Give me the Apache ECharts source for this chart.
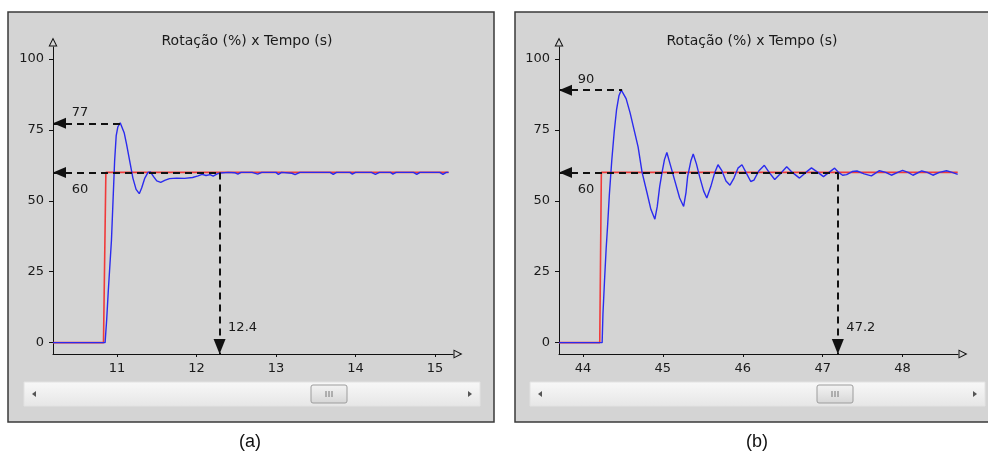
<!DOCTYPE html>
<html><head><meta charset="utf-8">
<script src="https://cdn.jsdelivr.net/npm/echarts@6/dist/echarts.min.js"></script>
<style>html,body{margin:0;padding:0;background:#fff}#c{width:988px;height:454px}</style>
</head><body><div id="c"></div><script>
// ---- data ----
const titleText = 'Rotação (%) x Tempo (s)';
const captions = ['(a)', '(b)'];
const yTicks = [0, 25, 50, 75, 100];
const yRange = [-4, 104.2];
const xRangeA = [10.195, 15.226];
const xRangeB = [43.7, 48.694];
const xTicksA = [11, 12, 13, 14, 15];
const xTicksB = [44, 45, 46, 47, 48];

const setpointA = [[10.195,0],[10.83,0],[10.86,60],[15.17,60]];
const responseA = [[10.195,0],[10.85,0],[10.87,8],[10.89,18],[10.91,27],[10.93,36],[10.95,50],[10.97,64],[10.99,73],[11.01,76],[11.04,77.5],[11.06,77.3],[11.09,74],[11.12,70],[11.16,64],[11.2,58],[11.24,54],[11.28,52.5],[11.31,54.5],[11.35,58],[11.39,60],[11.42,60.2],[11.46,58.5],[11.5,57],[11.55,56.5],[11.6,57.2],[11.66,57.8],[11.75,58],[11.85,57.9],[11.95,58.2],[12.02,58.8],[12.07,59.3],[12.12,58.9],[12.17,59.2],[12.21,58.7],[12.26,59.5],[12.3,59.8],[12.4,60],[12.48,59.9],[12.52,59.4],[12.56,60],[12.7,60],[12.77,59.4],[12.82,60],[13.0,60],[13.03,59.3],[13.07,60],[13.2,59.7],[13.24,59.2],[13.3,60],[13.68,60],[13.72,59.3],[13.76,60],[13.93,60],[13.96,59.4],[14.0,60],[14.2,60],[14.25,59.3],[14.3,60],[14.44,60],[14.47,59.4],[14.51,60],[14.73,60],[14.77,59.3],[14.81,60],[15.06,60],[15.1,59.3],[15.14,60],[15.17,60]];

const setpointB = [[43.7,0],[44.21,0],[44.23,60],[48.69,60]];
const responseB = [[43.7,0],[44.24,0],[44.25,10],[44.27,22],[44.29,33],[44.31,42],[44.33,52],[44.36,64],[44.39,74],[44.42,82],[44.45,87],[44.48,89],[44.5,88.5],[44.54,86],[44.59,81],[44.64,75],[44.69,69],[44.74,60],[44.8,53],[44.85,47],[44.9,43.5],[44.93,48],[44.96,55],[44.99,60],[45.02,64.5],[45.05,67],[45.09,63],[45.15,57],[45.21,51],[45.26,48],[45.29,53],[45.31,58.5],[45.35,64],[45.38,66.5],[45.42,63],[45.46,58.5],[45.51,53.5],[45.55,51],[45.6,55],[45.65,60],[45.69,62.7],[45.74,60.5],[45.79,57],[45.84,55.5],[45.89,58],[45.94,61.5],[45.99,62.7],[46.04,60],[46.1,56.8],[46.14,57.3],[46.2,60.5],[46.27,62.5],[46.33,60],[46.4,57.5],[46.47,59.5],[46.55,62],[46.62,60],[46.71,58],[46.79,60],[46.86,61.6],[46.94,60],[47.01,58.5],[47.08,60],[47.15,61.5],[47.2,60],[47.25,59],[47.3,59.2],[47.37,60.3],[47.43,60.5],[47.52,59.5],[47.61,58.8],[47.71,60.6],[47.79,60],[47.86,59],[47.94,60],[48.0,60.7],[48.07,60],[48.13,59],[48.24,60.5],[48.31,60],[48.38,59],[48.46,60],[48.55,60.6],[48.62,60],[48.69,59.3]];

// annotations: [x, y]
const peakA = [11.05, 77.3];
const settleA = [12.29, 60];
const labelsA = ['77', '60', '12.4'];
const peakB = [44.49, 89];
const settleB = [47.19, 60];
const labelsB = ['90', '60', '47.2'];

// ---- chart ----
const FONT = 'DejaVu Sans';
const TXT = '#1a1a1a';
const hollowTri = 'path://M5,0L10,10L0,10Z M5,2.6L1.8,8.9L8.2,8.9Z';

const grids = [
  {left: 53, top: 47, width: 400, height: 307, outerBoundsMode: 'none'},
  {left: 559, top: 47, width: 399, height: 307, outerBoundsMode: 'none'}
];

function xAxisDef(i, range, ticks) {
  return {
    type: 'value', gridIndex: i, min: range[0], max: range[1],
    axisLine: {show: true, onZero: false, lineStyle: {color: '#111', width: 1},
      symbol: ['none', hollowTri], symbolSize: [9, 10], symbolOffset: [0, 5]},
    axisTick: {show: true, length: 3, customValues: ticks, lineStyle: {color: '#111'}},
    axisLabel: {customValues: ticks, color: TXT, fontFamily: FONT, fontSize: 13, margin: 8},
    splitLine: {show: false}
  };
}
function yAxisDef(i) {
  return {
    type: 'value', gridIndex: i, min: yRange[0], max: yRange[1],
    axisLine: {show: true, onZero: false, lineStyle: {color: '#111', width: 1},
      symbol: ['none', hollowTri], symbolSize: [9, 10], symbolOffset: [0, 5]},
    axisTick: {show: true, length: 4, customValues: yTicks, lineStyle: {color: '#111'}},
    axisLabel: {customValues: yTicks, color: TXT, fontFamily: FONT, fontSize: 13, margin: 9},
    splitLine: {show: false}
  };
}

function panelSeries(i, range, setpoint, response, peak, settle, labels) {
  const arrowH = {symbol: 'triangle', symbolSize: [11, 13], symbolOffset: [0, 6.5]};
  const arrowV = {symbol: 'triangle', symbolSize: [12, 15], symbolOffset: [0, 7.5]};
  return [
    {type: 'line', xAxisIndex: i, yAxisIndex: i, data: setpoint, showSymbol: false, symbol: 'none',
      lineStyle: {color: '#f03a3a', width: 1.6}, z: 2, silent: true},
    {type: 'line', xAxisIndex: i, yAxisIndex: i, data: response, showSymbol: false, symbol: 'none',
      lineStyle: {color: '#2b2bee', width: 1.4}, z: 3, silent: true},
    {type: 'line', xAxisIndex: i, yAxisIndex: i, data: [], z: 4, silent: true,
      markLine: {
        silent: true, animation: false, symbol: ['none', 'none'],
        lineStyle: {color: '#111', width: 2, type: [7, 5]},
        label: {show: false}, emphasis: {disabled: true},
        data: [
          [Object.assign({coord: [range[0], peak[1]]}, arrowH), {coord: [peak[0], peak[1]], symbol: 'none'}],
          [Object.assign({coord: [range[0], settle[1]]}, arrowH), {coord: [settle[0], settle[1]], symbol: 'none'}],
          [{coord: [settle[0], settle[1]], symbol: 'none'}, Object.assign({coord: [settle[0], yRange[0]]}, arrowV)]
        ]
      }},
    {type: 'scatter', xAxisIndex: i, yAxisIndex: i, symbolSize: 0, silent: true, z: 5,
      itemStyle: {opacity: 1, color: TXT},
      label: {show: true, position: 'inside', formatter: p => p.name, color: TXT, opacity: 1, fontFamily: FONT, fontSize: 13},
      data: [
        {name: labels[0], value: [range[0], peak[1]], label: {offset: [27, -11]}},
        {name: labels[1], value: [range[0], settle[1]], label: {offset: [27, 17.5]}},
        {name: labels[2], value: [settle[0], 0], label: {offset: [23, -15]}}
      ]}
  ];
}

function scrollbar(x, w) {
  const y = 382, h = 24, tx = x + 287;
  return [
    {type: 'rect', z: -1, shape: {x: x, y: y, width: w, height: h},
      style: {fill: {type: 'linear', x: 0, y: 0, x2: 0, y2: 1, colorStops: [{offset: 0, color: '#f8f8f8'}, {offset: 1, color: '#e6e6e6'}]}, stroke: '#e2e2e2', lineWidth: 1}},
    {type: 'rect', z: -1, shape: {x: tx, y: y + 3, width: 36, height: 18, r: 2},
      style: {fill: {type: 'linear', x: 0, y: 0, x2: 0, y2: 1, colorStops: [{offset: 0, color: '#f4f4f4'}, {offset: 1, color: '#d6d6d6'}]}, stroke: '#9c9c9c', lineWidth: 1}},
    {type: 'line', z: -1, shape: {x1: tx + 15, y1: y + 9, x2: tx + 15, y2: y + 15}, style: {stroke: '#777', lineWidth: 1}},
    {type: 'line', z: -1, shape: {x1: tx + 18, y1: y + 9, x2: tx + 18, y2: y + 15}, style: {stroke: '#777', lineWidth: 1}},
    {type: 'line', z: -1, shape: {x1: tx + 21, y1: y + 9, x2: tx + 21, y2: y + 15}, style: {stroke: '#777', lineWidth: 1}},
    {type: 'polygon', z: -1, shape: {points: [[x + 8, y + 12], [x + 12, y + 9], [x + 12, y + 15]]}, style: {fill: '#555'}},
    {type: 'polygon', z: -1, shape: {points: [[x + w - 8, y + 12], [x + w - 12, y + 9], [x + w - 12, y + 15]]}, style: {fill: '#555'}}
  ];
}

const graphics = [
  {type: 'rect', z: -2, shape: {x: 8, y: 12, width: 486, height: 410}, style: {fill: '#d4d4d4', stroke: '#3a3a3a', lineWidth: 1.5}},
  {type: 'rect', z: -2, shape: {x: 515, y: 12, width: 490, height: 410}, style: {fill: '#d4d4d4', stroke: '#3a3a3a', lineWidth: 1.5}},
  {type: 'text', z: 1, x: 247, y: 41, style: {text: titleText, fill: TXT, font: '14px "DejaVu Sans"', align: 'center', verticalAlign: 'middle'}},
  {type: 'text', z: 1, x: 752, y: 41, style: {text: titleText, fill: TXT, font: '14px "DejaVu Sans"', align: 'center', verticalAlign: 'middle'}},
  {type: 'text', z: 1, x: 250, y: 442, style: {text: captions[0], fill: '#111', font: '18px "Liberation Sans"', align: 'center', verticalAlign: 'middle'}},
  {type: 'text', z: 1, x: 757, y: 442, style: {text: captions[1], fill: '#111', font: '18px "Liberation Sans"', align: 'center', verticalAlign: 'middle'}}
].concat(scrollbar(24, 456), scrollbar(530, 455));

const chart = echarts.init(document.getElementById('c'), null, {renderer: 'canvas', width: 988, height: 454});
chart.setOption({
  backgroundColor: '#ffffff',
  animation: false,
  grid: grids,
  xAxis: [xAxisDef(0, xRangeA, xTicksA), xAxisDef(1, xRangeB, xTicksB)],
  yAxis: [yAxisDef(0), yAxisDef(1)],
  graphic: graphics,
  series: [].concat(
    panelSeries(0, xRangeA, setpointA, responseA, peakA, settleA, labelsA),
    panelSeries(1, xRangeB, setpointB, responseB, peakB, settleB, labelsB)
  )
});
</script></body></html>
